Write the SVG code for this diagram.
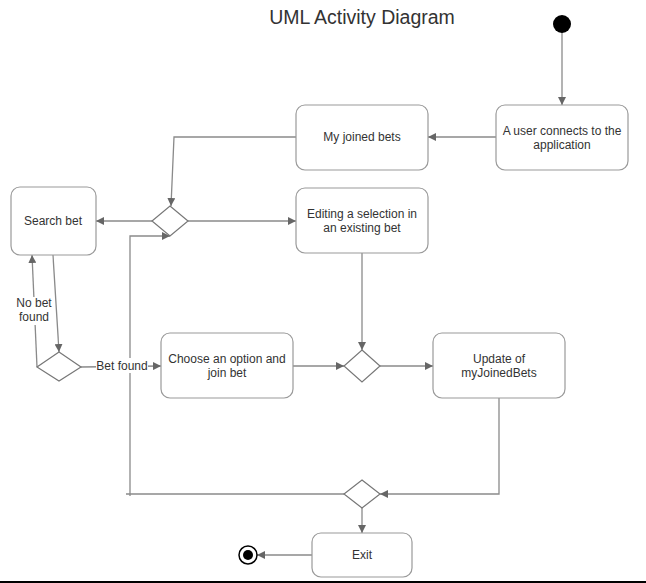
<svg xmlns="http://www.w3.org/2000/svg" width="646" height="583" viewBox="0 0 646 583">
<defs>
<marker id="arr" viewBox="0 0 10 10" refX="10" refY="5" markerWidth="8" markerHeight="8" markerUnits="userSpaceOnUse" orient="auto">
<path d="M0,0 L10,5 L0,10 Z" fill="#666"/>
</marker>
</defs>
<style>
.box{fill:#fff;stroke:#9a9a9a;stroke-width:1.2}
.dia{fill:#fff;stroke:#777;stroke-width:1.2}
.t{font-family:"Liberation Sans",Arial,sans-serif;font-size:12px;fill:#333;text-anchor:middle}
.ln{fill:none;stroke:#8a8a8a;stroke-width:1.3}
</style>
<rect x="0" y="0" width="646" height="583" fill="#fff"/>
<text x="362" y="24" class="t" style="font-size:19.5px">UML Activity Diagram</text>

<g id="connectors">
<path class="ln" d="M562,25 L562,105" marker-end="url(#arr)"/>
<path class="ln" d="M496,137 L428,137" marker-end="url(#arr)"/>
<path class="ln" d="M296,137 L174,137 L171,206" marker-end="url(#arr)"/>
<path class="ln" d="M152,221 L96,221" marker-end="url(#arr)"/>
<path class="ln" d="M188,221 L296,221" marker-end="url(#arr)"/>
<path class="ln" d="M53,255 L59,352" marker-end="url(#arr)"/>
<path class="ln" d="M37,367 L32,255" marker-end="url(#arr)"/>
<path class="ln" d="M81,367 L161,366" marker-end="url(#arr)"/>
<path class="ln" d="M362,253 L362,350" marker-end="url(#arr)"/>
<path class="ln" d="M293,366 L344,366" marker-end="url(#arr)"/>
<path class="ln" d="M380,366 L433,366" marker-end="url(#arr)"/>
<path class="ln" d="M499,398 L499,494 L380,494" marker-end="url(#arr)"/>
<path class="ln" d="M344,494 L126,494"/>
<path class="ln" d="M130,496 L130,236 L170,236" marker-end="url(#arr)"/>
<path class="ln" d="M362,508 L362,533" marker-end="url(#arr)"/>
<path class="ln" d="M312,555 L257,555" marker-end="url(#arr)"/>
<rect x="16" y="297" width="36" height="28" fill="#fff"/>
<text x="34" y="307" class="t">No bet</text>
<text x="34" y="321" class="t">found</text>
<rect x="96" y="358" width="52" height="15" fill="#fff"/>
<text x="122" y="370" class="t">Bet found</text>
</g>

<g id="start"><circle cx="562" cy="24" r="9" fill="#000"/></g>
<g id="user-connects"><rect class="box" x="496" y="105" width="132" height="65" rx="9"/>
<text x="562" y="135" class="t">A user connects to the</text><text x="562" y="149" class="t">application</text></g>
<g id="my-joined-bets"><rect class="box" x="296" y="105" width="132" height="65" rx="9"/>
<text x="362" y="141" class="t">My joined bets</text></g>
<g id="decision1"><path class="dia" d="M170,206 L188,221 L170,236 L152,221 Z"/></g>
<g id="search-bet"><rect class="box" x="11" y="187" width="85" height="68" rx="9"/>
<text x="53" y="225" class="t">Search bet</text></g>
<g id="editing"><rect class="box" x="296" y="188" width="132" height="65" rx="9"/>
<text x="362" y="218" class="t">Editing a selection in</text><text x="362" y="232" class="t">an existing bet</text></g>
<g id="decision2"><path class="dia" d="M59,352 L81,367 L59,381 L37,367 Z"/></g>
<g id="choose"><rect class="box" x="161" y="333" width="132" height="65" rx="9"/>
<text x="227" y="363" class="t">Choose an option and</text><text x="227" y="377" class="t">join bet</text></g>
<g id="decision3"><path class="dia" d="M362,350 L380,366 L362,382 L344,366 Z"/></g>
<g id="update"><rect class="box" x="433" y="333" width="132" height="65" rx="9"/>
<text x="499" y="363" class="t">Update of</text><text x="499" y="377" class="t">myJoinedBets</text></g>
<g id="decision4"><path class="dia" d="M362,480 L380,494 L362,508 L344,494 Z"/></g>
<g id="exit"><rect class="box" x="312" y="533" width="100" height="44" rx="9"/>
<text x="362" y="559" class="t">Exit</text></g>
<g id="end"><circle cx="248" cy="555" r="9" fill="#fff" stroke="#000" stroke-width="1.5"/><circle cx="248" cy="555" r="5" fill="#000"/></g>
<rect x="0" y="581" width="646" height="2" fill="#000"/>
</svg>
